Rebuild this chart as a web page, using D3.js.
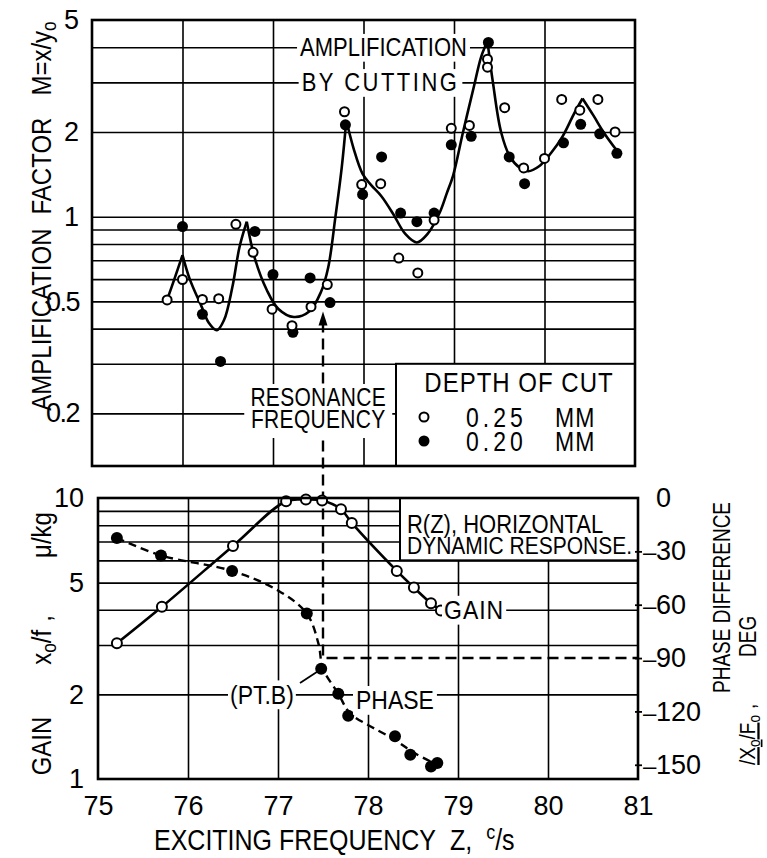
<!DOCTYPE html>
<html><head><meta charset="utf-8">
<script src="https://cdn.jsdelivr.net/npm/d3@7"></script>
<style>
body{margin:0;background:#fff}
svg{display:block;font-family:"Liberation Sans",Arial,sans-serif}
</style></head><body>
<svg id="chart" width="767" height="858"></svg>
<script>
// ---------------- data ----------------
const freqTicks = [75, 76, 77, 78, 79, 80, 81];
const freqGrid = [76, 77, 78, 79, 80];
const ampTicks = [5, 2, 1, 0.5, 0.2];
const ampGrid = [0.2, 0.3, 0.4, 0.5, 0.6, 0.7, 0.8, 0.9, 1, 2, 3, 4];
const gainTicks = [10, 5, 2, 1];
const gainGrid = [2, 3, 4, 5, 6, 7, 8, 9];
const phaseTicks = [0, -30, -60, -90, -120, -150];
const phaseMarks = [-30, -60, -90, -120, -150];

// amplification factor, depth of cut 0.25 mm (open) : [freq, M]
const cut025 = [[75.83,0.506],[76.0,0.598],[76.22,0.508],[76.40,0.511],[76.59,0.939],[76.78,0.747],
  [76.99,0.469],[77.21,0.41],[77.42,0.479],[77.60,0.574],[77.79,2.36],[77.98,1.30],[78.19,1.31],
  [78.39,0.713],[78.60,0.631],[78.78,0.973],[78.97,2.06],[79.17,2.11],[79.37,3.63],[79.37,3.40],
  [79.56,2.44],[79.77,1.49],[80.0,1.61],[80.19,2.61],[80.39,2.39],[80.59,2.61],[80.78,2.0]];
// depth of cut 0.20 mm (filled)
const cut020 = [[76.0,0.922],[76.22,0.45],[76.42,0.306],[76.80,0.886],[77.0,0.623],[77.22,0.388],
  [77.41,0.606],[77.63,0.495],[77.80,2.12],[77.99,1.20],[78.2,1.63],[78.41,1.03],[78.59,0.96],
  [78.78,1.03],[78.97,1.80],[79.19,1.93],[79.38,4.16],[79.61,1.63],[79.78,1.31],[80.21,1.83],
  [80.40,2.13],[80.61,1.97],[80.80,1.68]];
// hand-fitted amplification curve
const ampCurve = [[75.83,0.506],[75.91,0.6],[76.0,0.73],[76.08,0.6],[76.21,0.48],[76.29,0.42],
  [76.38,0.395],[76.46,0.43],[76.55,0.56],[76.63,0.78],[76.71,0.96],[76.8,0.71],[76.93,0.55],
  [77.06,0.47],[77.23,0.44],[77.4,0.46],[77.53,0.54],[77.61,0.66],[77.69,1.0],[77.76,1.5],
  [77.81,2.2],[77.89,1.75],[77.99,1.42],[78.08,1.3],[78.2,1.18],[78.33,1.02],[78.46,0.87],
  [78.59,0.81],[78.71,0.87],[78.84,1.03],[78.92,1.21],[78.99,1.4],[79.1,2.0],[79.22,2.9],
  [79.3,3.7],[79.37,4.2],[79.43,3.0],[79.52,2.0],[79.62,1.63],[79.73,1.49],[79.82,1.45],
  [79.94,1.51],[80.07,1.68],[80.2,1.93],[80.32,2.3],[80.42,2.63],[80.54,2.29],[80.66,1.98],[80.81,1.70]];

// horizontal dynamic response R(Z): gain x0/f (open) and phase (filled)
const gainPts = [[75.21,3.04],[75.71,4.10],[76.50,6.75],[77.09,9.74],[77.31,9.87],[77.49,9.79],
  [77.70,9.12],[77.82,8.15],[78.32,5.50],[78.51,4.80],[78.70,4.22],[78.81,3.98]];
const phasePts = [[75.21,-22.5],[75.70,-32.3],[76.49,-41],[77.32,-65],[77.48,-96],[77.67,-110],
  [77.78,-122.5],[78.30,-134],[78.47,-144.4],[78.70,-151],[78.77,-149]];
const phaseCurve = [[75.21,-22.5],[75.70,-32.3],[76.49,-41],[77.0,-52],[77.32,-65],[77.45,-82],
  [77.5,-96],[77.67,-110],[77.8,-121],[78.05,-129],[78.3,-136],[78.5,-143],[78.77,-150]];

const resonanceFreq = 77.5;
const resonancePhase = -90;
const arrowTipM = 0.46;
const ptB = phasePts[4];

// ---------------- scales ----------------
const xT = d3.scaleLinear().domain([75, 81]).range([92, 635]);
const yT = d3.scaleLog().domain([0.13, 5]).range([466, 20]);
const xB = d3.scaleLinear().domain([75, 81]).range([98, 638]);
const yG = d3.scaleLog().domain([1, 10]).range([779, 498]);
const yP = d3.scaleLinear().domain([-158, 0]).range([779, 498]);

const STRETCH = 1.15;
const svg = d3.select('#chart');
svg.append('rect').attr('width', 767).attr('height', 858).attr('fill', '#fff');

function addText(parent, parts, x, y, o = {}) {
  const size = o.size || 22, st = o.stretch == null ? STRETCH : o.stretch, rot = o.rotate || 0;
  const cap = 0.716 * size * st;
  let tx = x, ty = y;
  if (o.vc) { if (rot === -90) tx = x + cap / 2; else ty = y + cap / 2; }
  const g = parent.append('g')
    .attr('transform', `translate(${tx},${ty})${rot ? ` rotate(${rot})` : ''} scale(1,${st})`);
  const t = g.append('text').attr('font-size', size).attr('text-anchor', o.anchor || 'start').attr('fill', '#000');
  if (o.ls) t.attr('letter-spacing', o.ls);
  const arr = typeof parts === 'string' ? [{ t: parts }] : parts;
  let shift = 0;
  arr.forEach(p => {
    const ts = t.append('tspan').text(p.t);
    const target = p.sub ? 0.2 * size : p.sup ? -0.38 * size : 0;
    if (target !== shift) { ts.attr('dy', target - shift); shift = target; }
    if (p.sub || p.sup) ts.attr('font-size', size * 0.72);
    if (p.dx) ts.attr('dx', p.dx);
    if (p.u) ts.attr('text-decoration', 'underline');
  });
  if (o.bg != null) {
    const b = t.node().getBBox();
    g.insert('rect', 'text').attr('x', b.x - o.bg).attr('y', b.y).attr('width', b.width + 2 * o.bg)
      .attr('height', b.height).attr('fill', '#fff');
  }
  return g;
}

function styleGrid(g) {
  g.select('.domain').remove();
  g.selectAll('line').attr('stroke', '#000').attr('stroke-width', 1.6);
}

// ---------------- grids ----------------
const topW = xT(81) - xT(75), topH = yT.range()[0] - yT(5);
const botW = xB(81) - xB(75), botH = yG(1) - yG(10);

svg.append('g').attr('transform', `translate(${xT(75)},0)`)
  .call(d3.axisLeft(yT).tickValues(ampGrid).tickSize(-topW).tickFormat('')).call(styleGrid);
svg.append('g').attr('transform', `translate(0,${yT.range()[0]})`)
  .call(d3.axisBottom(xT).tickValues(freqGrid).tickSize(-topH).tickFormat('')).call(styleGrid);
svg.append('g').attr('transform', `translate(${xB(75)},0)`)
  .call(d3.axisLeft(yG).tickValues(gainGrid).tickSize(-botW).tickFormat('')).call(styleGrid);
svg.append('g').attr('transform', `translate(0,${yG(1)})`)
  .call(d3.axisBottom(xB).tickValues(freqGrid).tickSize(-botH).tickFormat('')).call(styleGrid);

// ---------------- resonance dashed line ----------------
const rx = xB(resonanceFreq), tipY = yT(arrowTipM), ry = yP(resonancePhase);
svg.append('path').attr('d', `M${rx},${tipY + 10}V${ry}H${xB(81)}`)
  .attr('fill', 'none').attr('stroke', '#000').attr('stroke-width', 2.4).attr('stroke-dasharray', '11,6');
svg.append('path').attr('d', `M${rx},${tipY}L${rx - 4.5},${tipY + 14}L${rx + 4.5},${tipY + 14}Z`).attr('fill', '#000');

// ---------------- boxes ----------------
// resonance text background
svg.append('rect').attr('x', xT(resonanceFreq) - 74).attr('y', 384).attr('width', 148).attr('height', 54).attr('fill', '#fff');
// legend box
const legX = 396;
svg.append('rect').attr('x', legX).attr('y', yT(0.3)).attr('width', xT(81) - legX).attr('height', yT.range()[0] - yT(0.3))
  .attr('fill', '#fff').attr('stroke', '#000').attr('stroke-width', 2);
// R(Z) box
const rzX = 400;
svg.append('rect').attr('x', rzX).attr('y', yG(10)).attr('width', xB(81) - rzX).attr('height', yG(6) - yG(10))
  .attr('fill', '#fff').attr('stroke', '#000').attr('stroke-width', 2);

// ---------------- curves ----------------
function splitAtPeaks(pts) {
  const segs = []; let cur = [pts[0]];
  for (let i = 1; i < pts.length; i++) {
    cur.push(pts[i]);
    if (i < pts.length - 1 && pts[i][1] > pts[i - 1][1] && pts[i][1] > pts[i + 1][1]) { segs.push(cur); cur = [pts[i]]; }
  }
  segs.push(cur); return segs;
}
const ampLine = d3.line().x(d => xT(d[0])).y(d => yT(d[1])).curve(d3.curveCatmullRom.alpha(0.5));
splitAtPeaks(ampCurve).forEach(seg => {
  svg.append('path').attr('d', ampLine(seg)).attr('fill', 'none').attr('stroke', '#000')
    .attr('stroke-width', 2.6).attr('stroke-linejoin', 'round');
});
const gainLine = d3.line().x(d => xB(d[0])).y(d => yG(d[1])).curve(d3.curveCatmullRom.alpha(0.5));
svg.append('path').attr('d', gainLine(gainPts)).attr('fill', 'none').attr('stroke', '#000').attr('stroke-width', 2.6);
const phaseLine = d3.line().x(d => xB(d[0])).y(d => yP(d[1])).curve(d3.curveCatmullRom.alpha(0.5));
svg.append('path').attr('d', phaseLine(phaseCurve)).attr('fill', 'none').attr('stroke', '#000')
  .attr('stroke-width', 2.4).attr('stroke-dasharray', '8,5');

// ---------------- points ----------------
svg.append('g').selectAll('circle').data(cut020).join('circle')
  .attr('cx', d => xT(d[0])).attr('cy', d => yT(d[1])).attr('r', 5.5).attr('fill', '#000');
svg.append('g').selectAll('circle').data(cut025).join('circle')
  .attr('cx', d => xT(d[0])).attr('cy', d => yT(d[1])).attr('r', 4.5).attr('fill', '#fff')
  .attr('stroke', '#000').attr('stroke-width', 2);
svg.append('g').selectAll('circle').data(phasePts).join('circle')
  .attr('cx', d => xB(d[0])).attr('cy', d => yP(d[1])).attr('r', 6).attr('fill', '#000');
svg.append('g').selectAll('circle').data(gainPts).join('circle')
  .attr('cx', d => xB(d[0])).attr('cy', d => yG(d[1])).attr('r', 5).attr('fill', '#fff')
  .attr('stroke', '#000').attr('stroke-width', 2);

// ---------------- annotations ----------------
addText(svg, 'AMPLIFICATION', 383.5, yT(4), { size: 22, anchor: 'middle', vc: true, bg: 3 });
addText(svg, 'BY CUTTING', 380.5, yT(3), { size: 22, anchor: 'middle', vc: true, bg: 3, ls: 2.5 });
addText(svg, 'RESONANCE', xT(resonanceFreq), 397, { size: 21, anchor: 'middle', vc: true, stretch: 1.2, ls: 0.3 });
addText(svg, 'FREQUENCY', xT(resonanceFreq), 419, { size: 21, anchor: 'middle', vc: true, stretch: 1.2, ls: 0.3 });
addText(svg, 'DEPTH OF CUT', 519, 382, { size: 24, anchor: 'middle', vc: true, ls: 1 });
svg.append('circle').attr('cx', 424).attr('cy', 417).attr('r', 4.5).attr('fill', '#fff').attr('stroke', '#000').attr('stroke-width', 2);
svg.append('circle').attr('cx', 424).attr('cy', 441).attr('r', 5.5).attr('fill', '#000');
addText(svg, '0.25', 466, 417, { size: 23, vc: true, ls: 4, stretch: 1.2 });
addText(svg, 'MM', 555, 417, { size: 23, vc: true, ls: 1, stretch: 1.2 });
addText(svg, '0.20', 466, 441, { size: 23, vc: true, ls: 4, stretch: 1.2 });
addText(svg, 'MM', 555, 441, { size: 23, vc: true, ls: 1, stretch: 1.2 });

addText(svg, 'R(Z),  HORIZONTAL', 407, 523.6, { size: 22, vc: true });
addText(svg, 'DYNAMIC RESPONSE.', 407, 545, { size: 21, vc: true });
addText(svg, 'GAIN', 444, yG(4), { size: 23, vc: true, bg: 2, ls: 1 });
addText(svg, '(PT.B)', 230, yG(2), { size: 23, vc: true, bg: 2 });
addText(svg, 'PHASE', 356, 700, { size: 23, vc: true, bg: 3 });
svg.append('line').attr('x1', 300).attr('y1', 683).attr('x2', xB(ptB[0]) - 4).attr('y2', yP(ptB[1]) + 3)
  .attr('stroke', '#000').attr('stroke-width', 1.8);

// ---------------- borders ----------------
svg.append('rect').attr('x', xT(75)).attr('y', yT(5)).attr('width', topW).attr('height', topH)
  .attr('fill', 'none').attr('stroke', '#000').attr('stroke-width', 2.6);
svg.append('rect').attr('x', xB(75)).attr('y', yG(10)).attr('width', botW).attr('height', botH)
  .attr('fill', 'none').attr('stroke', '#000').attr('stroke-width', 2.6);

// ---------------- axes (tick labels) ----------------
function styleTicks(g) {
  g.select('.domain').remove();
  g.attr('font-family', '"Liberation Sans",Arial,sans-serif').attr('font-size', 27);
  g.selectAll('text').attr('fill', '#000');
}
svg.append('g').attr('transform', `translate(${xT(75)},0)`)
  .call(d3.axisLeft(yT).tickValues(ampTicks).tickSize(0).tickPadding(13).tickFormat(d => String(d)))
  .call(styleTicks).selectAll('text').attr('letter-spacing', d => d < 1 ? -1.5 : 0);
svg.append('g').attr('transform', `translate(0,${yG(1)})`)
  .call(d3.axisBottom(xB).tickValues(freqTicks).tickSize(0).tickPadding(17).tickFormat(d => String(d)))
  .call(styleTicks);
svg.append('g').attr('transform', `translate(${xB(75)},0)`)
  .call(d3.axisLeft(yG).tickValues(gainTicks).tickSize(0).tickPadding(14).tickFormat(d => String(d)))
  .call(styleTicks);
svg.append('g').attr('transform', `translate(${xB(81) - 3},0)`)
  .call(d3.axisRight(yP).tickValues(phaseMarks).tickSize(7).tickFormat(''))
  .call(g => { g.select('.domain').remove(); g.selectAll('line').attr('stroke', '#000').attr('stroke-width', 1.8); });
svg.append('g').attr('transform', `translate(${xB(81)},0)`)
  .call(d3.axisRight(yP).tickValues(phaseTicks).tickSize(0).tickPadding(18).tickFormat(d => String(Math.abs(d))))
  .call(styleTicks)
  .selectAll('text').each(function (d) {
    if (d < 0) {
      const t = d3.select(this), num = t.text();
      t.text('');
      t.append('tspan').attr('x', 5).attr('font-size', 24).text('\u2013');
      t.append('tspan').attr('x', 18).text(num);
    }
  });

// ---------------- axis titles ----------------
addText(svg, [{ t: 'EXCITING FREQUENCY' }, { t: 'Z,', dx: 14 }, { t: 'c', sup: true, dx: 14 }, { t: '/s' }],
  154, 850, { size: 25 });
addText(svg, [{ t: 'AMPLIFICATION' }, { t: 'FACTOR', dx: 14 }, { t: 'M=x/y', dx: 22 }, { t: 'o', sub: true }],
  41, 216, { size: 24, rotate: -90, anchor: 'middle', vc: true });
addText(svg, 'GAIN', 41, 746, { size: 24, rotate: -90, anchor: 'middle', vc: true });
addText(svg, [{ t: 'x' }, { t: 'o', sub: true }, { t: '/f' }, { t: ',', dx: 8 }], 41, 640, { size: 24, rotate: -90, anchor: 'middle', vc: true });
addText(svg, '\u03bc/kg', 41, 535, { size: 24, rotate: -90, anchor: 'middle', vc: true });
addText(svg, 'PHASE DIFFERENCE', 721, 693, { size: 19, stretch: 1.25, rotate: -90, vc: true });
addText(svg, [{ t: '/X', u: true }, { t: 'o', sub: true, u: true }, { t: '/F', u: true }, { t: 'o', sub: true }, { t: ',', dx: 6 }],
  747, 765, { size: 19, stretch: 1.2, rotate: -90, vc: true });
addText(svg, 'DEG', 747, 657, { size: 19, stretch: 1.25, rotate: -90, vc: true });
</script>
</body></html>
